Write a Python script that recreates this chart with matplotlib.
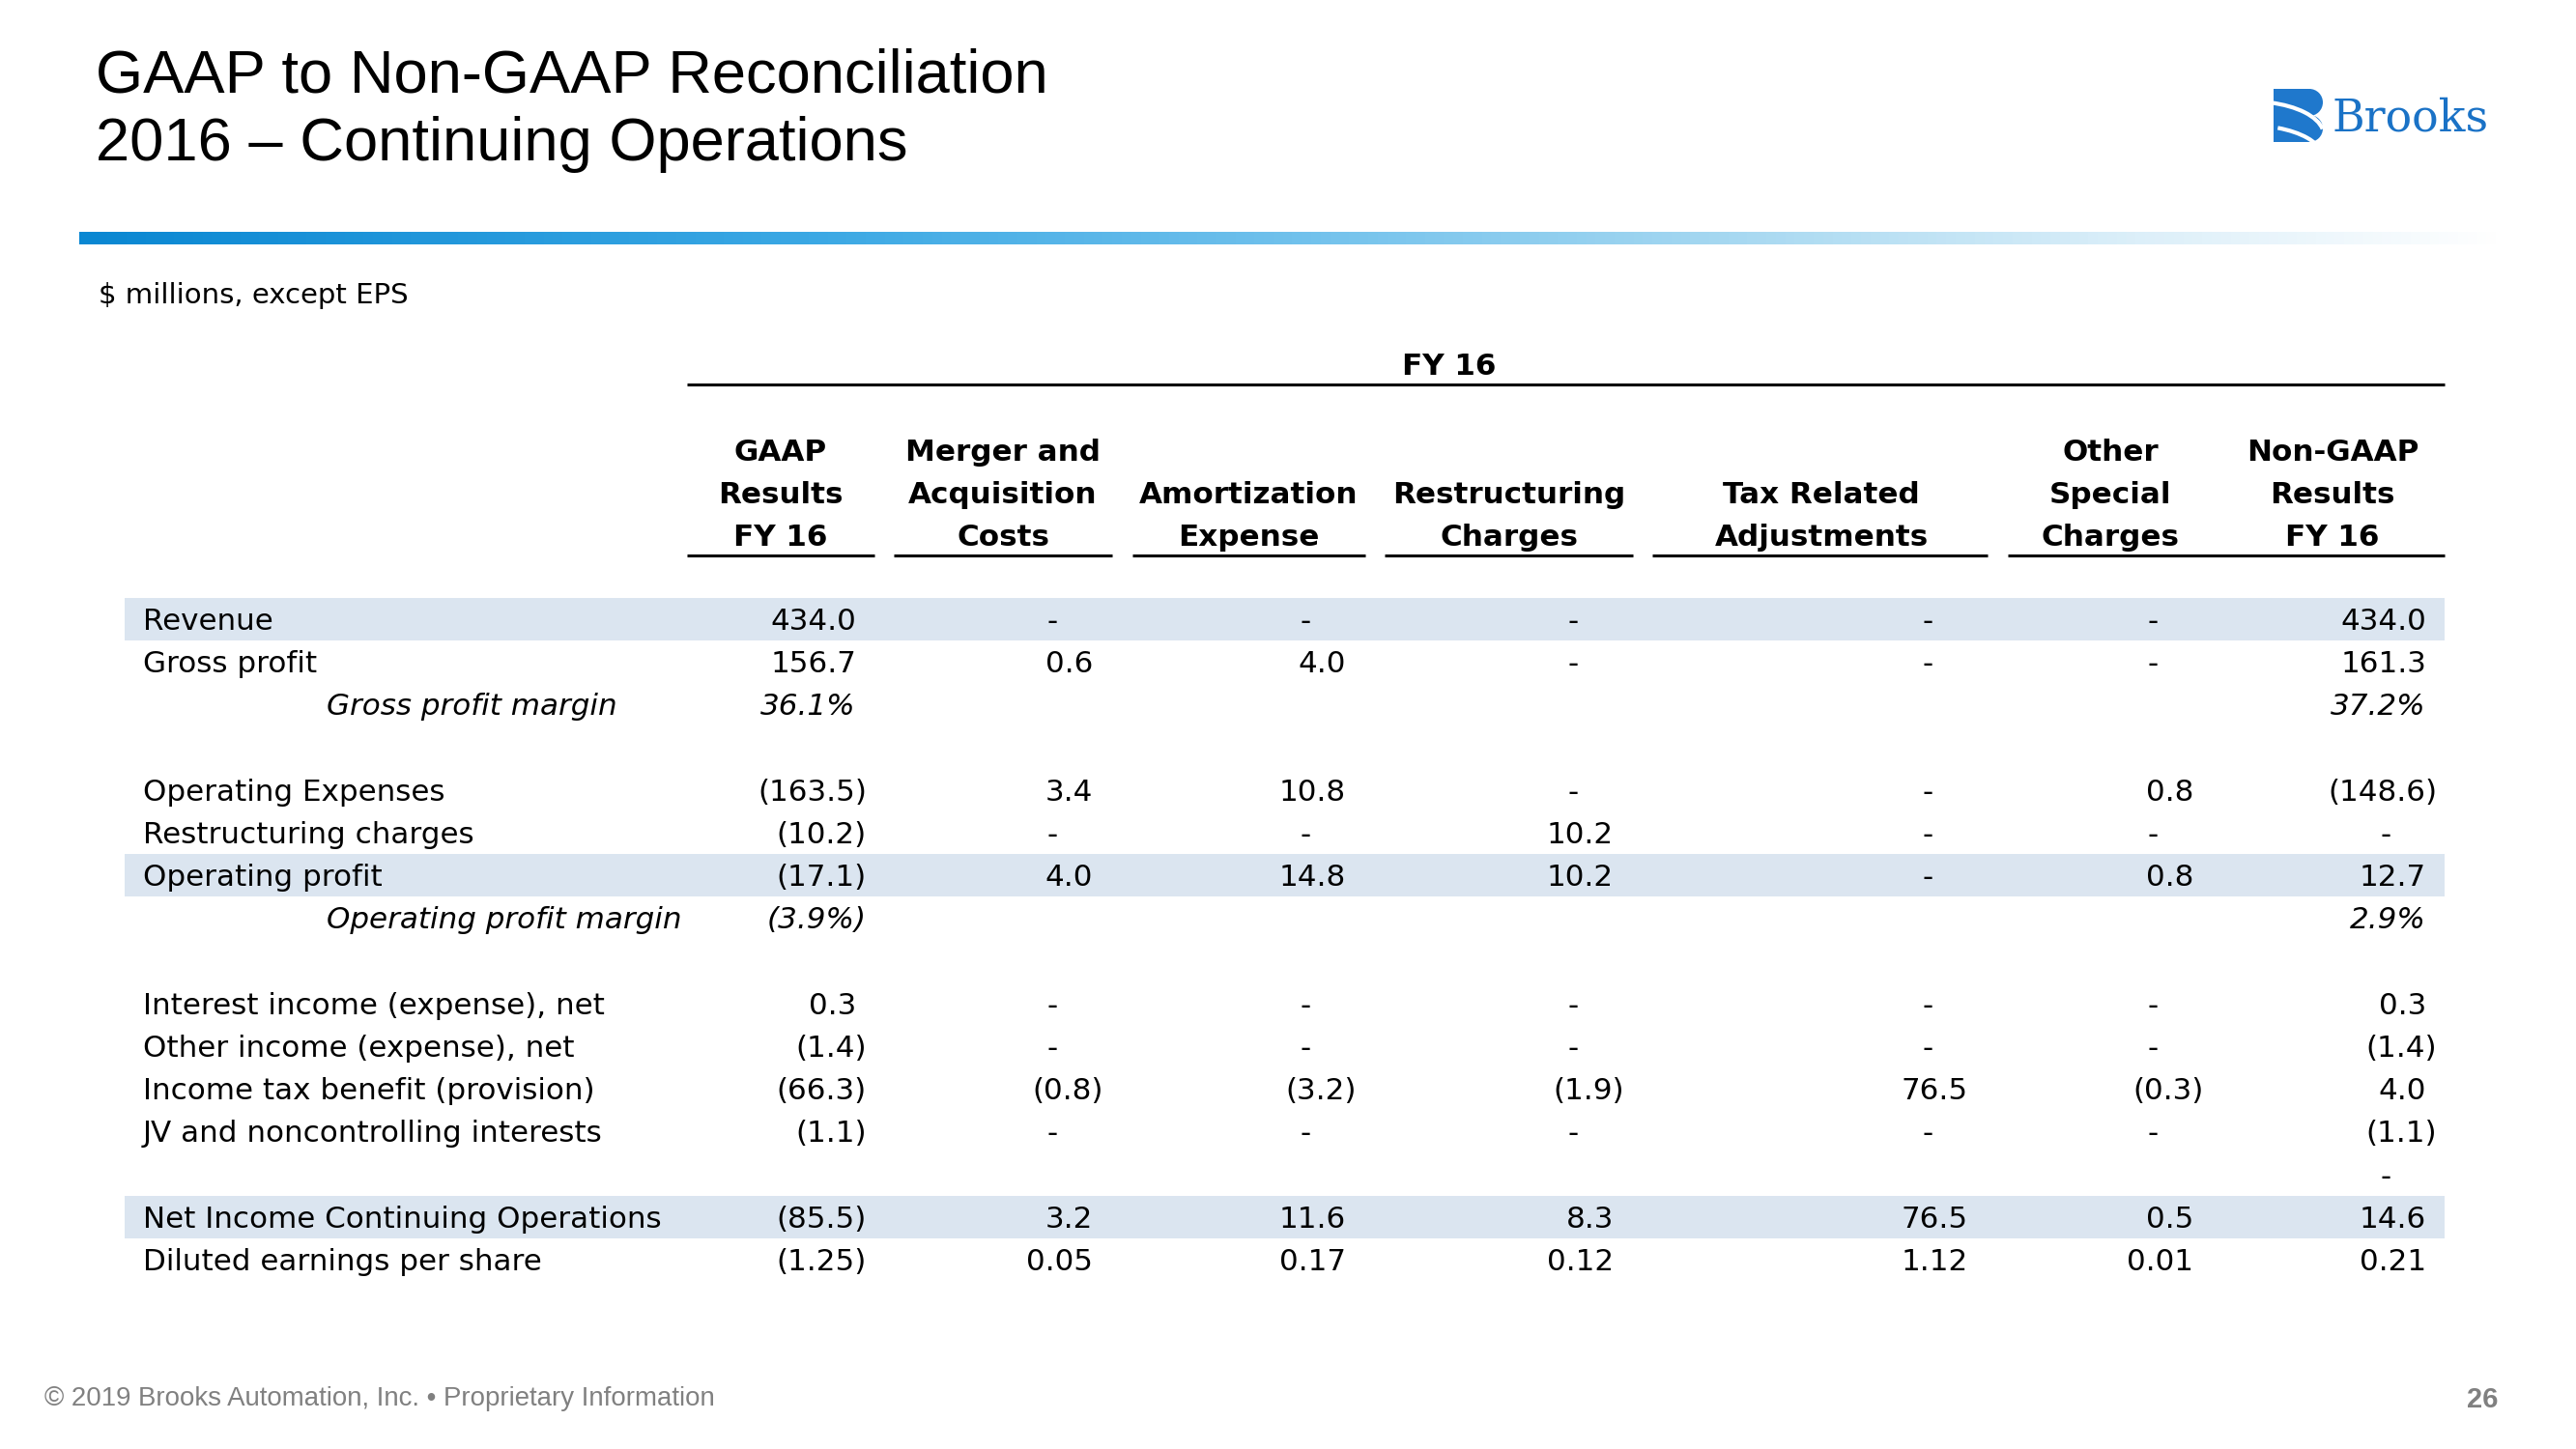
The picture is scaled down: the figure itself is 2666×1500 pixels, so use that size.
import matplotlib
matplotlib.use("Agg")
import matplotlib.pyplot as plt
import numpy as np
from matplotlib.colors import LinearSegmentedColormap
from matplotlib.patches import Rectangle, Circle, Arc

# ---- data ----
row_labels = ["Revenue", "Gross profit", "Gross profit margin", "",
              "Operating Expenses", "Restructuring charges", "Operating profit",
              "Operating profit margin", "",
              "Interest income (expense), net", "Other income (expense), net",
              "Income tax benefit (provision)", "JV and noncontrolling interests", "",
              "Net Income Continuing Operations", "Diluted earnings per share"]
italic_rows = [2, 7]      # margin rows, shown as %
shaded_rows = [0, 6, 14]
eps_row = 15

col_headers = [["GAAP", "Results", "FY 16"],
               ["Merger and", "Acquisition", "Costs"],
               ["", "Amortization", "Expense"],
               ["", "Restructuring", "Charges"],
               ["", "Tax Related", "Adjustments"],
               ["Other", "Special", "Charges"],
               ["Non-GAAP", "Results", "FY 16"]]

# 0 -> "-", None -> blank
gaap     = [434.0, 156.7, 36.1, None, -163.5, -10.2, -17.1, -3.9, None, 0.3, -1.4, -66.3, -1.1, None, -85.5, -1.25]
merger   = [0, 0.6, None, None, 3.4, 0, 4.0, None, None, 0, 0, -0.8, 0, None, 3.2, 0.05]
amort    = [0, 4.0, None, None, 10.8, 0, 14.8, None, None, 0, 0, -3.2, 0, None, 11.6, 0.17]
restruct = [0, 0, None, None, 0, 10.2, 10.2, None, None, 0, 0, -1.9, 0, None, 8.3, 0.12]
tax_adj  = [0, 0, None, None, 0, 0, 0, None, None, 0, 0, 76.5, 0, None, 76.5, 1.12]
other_sp = [0, 0, None, None, 0.8, 0, 0.8, None, None, 0, 0, -0.3, 0, None, 0.5, 0.01]
non_gaap = [434.0, 161.3, 37.2, None, -148.6, 0, 12.7, 2.9, None, 0.3, -1.4, 4.0, -1.1, 0, 14.6, 0.21]
columns = [gaap, merger, amort, restruct, tax_adj, other_sp, non_gaap]

# ---- layout (pixels) ----
W, H = 2666, 1500
col_right = [886, 1131, 1393, 1670, 2037, 2270, 2511]
col_center = [808, 1038, 1292, 1562, 1885, 2184, 2414]
underlines = [(711, 905), (925, 1151), (1172, 1413), (1433, 1690), (1710, 2057), (2078, 2530)]
row_y0, row_h = 641, 44.2
body = "DejaVu Sans"
fs = 22.3

fig = plt.figure(figsize=(W / 100, H / 100), dpi=100)
ax = fig.add_axes([0, 0, 1, 1])
ax.set_xlim(0, W)
ax.set_ylim(H, 0)
ax.axis("off")

# title
ax.text(99, 96, "GAAP to Non-GAAP Reconciliation", family="Liberation Sans",
        fontsize=45.5, va="baseline", ha="left")
ax.text(99, 166, "2016 \u2013 Continuing Operations", family="Liberation Sans",
        fontsize=45.5, va="baseline", ha="left")

# logo
blue = "#1a72c6"
ax.add_patch(Rectangle((2353, 92), 36, 55, color="#1f78cc", lw=0))
ax.add_patch(Circle((2390, 106), 14, color="#1f78cc", lw=0))
ax.add_patch(Circle((2390, 133), 14, color="#1f78cc", lw=0))
ax.add_patch(Arc((2330, 140), 150, 70, theta1=-60, theta2=-5, color="white", lw=3))
ax.add_patch(Arc((2330, 165), 150, 70, theta1=-50, theta2=-5, color="white", lw=3))
ax.text(2413, 136, "Brooks", family="DejaVu Serif", fontsize=33, color=blue,
        va="baseline", ha="left")

# gradient bar
stops = [(0.0, "#0a87d2"), (0.3, "#3ba8e4"), (0.5, "#70c1ec"), (0.68, "#a6d8f1"),
         (0.85, "#dceff9"), (1.0, "#ffffff")]
cmap = LinearSegmentedColormap.from_list("bar", stops)
ax.imshow(np.linspace(0, 1, 512)[None, :], cmap=cmap, aspect="auto",
          extent=[82, 2593, 253, 240], zorder=1)
ax.set_xlim(0, W)
ax.set_ylim(H, 0)

ax.text(102, 314, "$ millions, except EPS", family=body, fontsize=21, va="baseline")

# header
ax.text(1500, 388, "FY 16", family=body, fontsize=fs, weight="bold", ha="center", va="baseline")
ax.plot([711, 2530], [398, 398], color="black", lw=2.2, solid_capstyle="butt")
for c, lines in enumerate(col_headers):
    for k, line in enumerate(lines):
        ax.text(col_center[c], 477 + 44 * k, line, family=body, fontsize=fs,
                weight="bold", ha="center", va="baseline")
for x0, x1 in underlines:
    ax.plot([x0, x1], [575, 575], color="black", lw=2.2, solid_capstyle="butt")

# shaded bands
for r in shaded_rows:
    yc = row_y0 + r * row_h
    ax.add_patch(Rectangle((129, yc - 22), 2530 - 129, 44, color="#dbe5f0", lw=0, zorder=0))


def fmt(v, r):
    if r in italic_rows:
        s = f"{abs(v):.1f}%"
    elif r == eps_row:
        s = f"{abs(v):.2f}"
    else:
        s = f"{abs(v):.1f}"
    return f"({s})" if v < 0 else s


for r, label in enumerate(row_labels):
    yb = row_y0 + r * row_h + 11
    italic = r in italic_rows
    if label:
        ax.text(338 if italic else 148, yb, label, family=body, fontsize=fs,
                style="italic" if italic else "normal", va="baseline")
    for c, col in enumerate(columns):
        v = col[r]
        if v is None:
            continue
        if v == 0:
            ax.text(col_right[c] - 42, yb, "-", family=body, fontsize=fs,
                    ha="center", va="baseline")
            continue
        x = col_right[c] + (11 if v < 0 else 0)
        ax.text(x, yb, fmt(v, r), family=body, fontsize=fs, ha="right", va="baseline",
                style="italic" if italic else "normal")

# footer
ax.text(46, 1455, "\u00a9 2019 Brooks Automation, Inc. \u2022 Proprietary Information",
        family="Liberation Sans", fontsize=19.9, color="#808080", va="baseline")
ax.text(2569, 1457, "26", family="Liberation Sans", fontsize=21, weight="bold",
        color="#808080", ha="center", va="baseline")

fig.savefig("out.png", dpi=100)
